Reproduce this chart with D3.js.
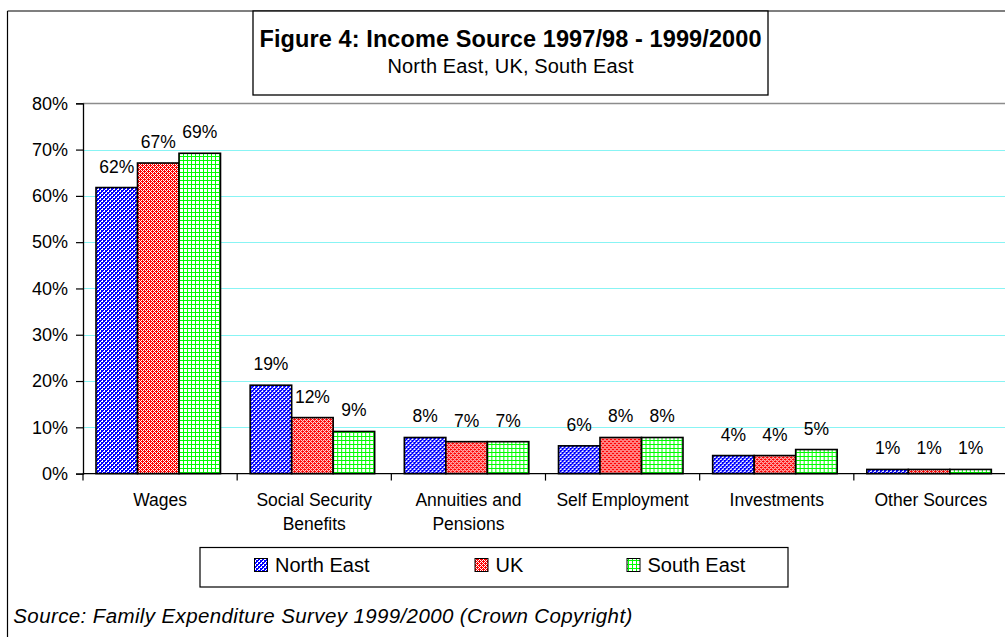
<!DOCTYPE html>
<html>
<head>
<meta charset="utf-8">
<script src="https://cdn.jsdelivr.net/npm/d3@7"></script>
<style>
  html, body { margin: 0; padding: 0; background: #fff; }
  svg { display: block; font-family: "Liberation Sans", Arial, sans-serif; }
</style>
</head>
<body>
<svg id="chart" width="1005" height="637"></svg>
<script>
// ---- data ----
const categories = ["Wages", "Social Security Benefits", "Annuities and Pensions", "Self Employment", "Investments", "Other Sources"];
const categoryLines = [["Wages"], ["Social Security", "Benefits"], ["Annuities and", "Pensions"], ["Self Employment"], ["Investments"], ["Other Sources"]];
const seriesNames = ["North East", "UK", "South East"];
const northEast = [0.618, 0.191, 0.078, 0.060, 0.039, 0.009];
const uk        = [0.671, 0.121, 0.069, 0.078, 0.039, 0.009];
const southEast = [0.692, 0.091, 0.069, 0.078, 0.052, 0.009];
const yTicks = [0, 0.1, 0.2, 0.3, 0.4, 0.5, 0.6, 0.7, 0.8];
const titleText = "Figure 4: Income Source 1997/98 - 1999/2000";
const subtitleText = "North East, UK, South East";
const sourceText = "Source: Family Expenditure Survey 1999/2000 (Crown Copyright)";

const seriesValues = [northEast, uk, southEast];
const svg = d3.select("#chart");

// ---- patterns ----
const defs = svg.append("defs");
function pat(id, bg, fg, pixels, w, h) {
  const p = defs.append("pattern").attr("id", id).attr("patternUnits", "userSpaceOnUse")
    .attr("width", w).attr("height", h);
  p.append("rect").attr("width", w).attr("height", h).attr("fill", bg).attr("shape-rendering", "crispEdges");
  pixels.forEach(([x, y]) => p.append("rect").attr("x", x).attr("y", y).attr("width", 1).attr("height", 1)
    .attr("fill", fg).attr("shape-rendering", "crispEdges"));
}
// blue with white upward diagonals
pat("pNE", "#0000ff", "#ffffff", [[3,0],[2,1],[1,2],[0,3],[3,1],[1,3]], 4, 4);
// red with white downward diagonals
pat("pUK", "#ff0000", "#ffffff", [[0,0],[1,1],[2,2],[3,3],[0,2],[2,0]], 4, 4);
// green grid on white
(function(){
  const p = defs.append("pattern").attr("id", "pSE").attr("patternUnits", "userSpaceOnUse").attr("width", 4).attr("height", 4);
  p.append("rect").attr("width", 4).attr("height", 4).attr("fill", "#ffffff");
  p.append("rect").attr("x", 0).attr("y", 0).attr("width", 1).attr("height", 4).attr("fill", "#00ff00").attr("shape-rendering", "crispEdges");
  p.append("rect").attr("x", 0).attr("y", 0).attr("width", 4).attr("height", 1).attr("fill", "#00ff00").attr("shape-rendering", "crispEdges");
})();
const fills = ["url(#pNE)", "url(#pUK)", "url(#pSE)"];

// ---- outer frame ----
svg.append("line").attr("x1", 7.5).attr("x2", 7.5).attr("y1", 11).attr("y2", 637).attr("stroke", "#000").attr("stroke-width", 1.2);
svg.append("line").attr("x1", 7.5).attr("x2", 1005).attr("y1", 11).attr("y2", 11).attr("stroke", "#000").attr("stroke-width", 1.2);

// ---- scales ----
const y = d3.scaleLinear().domain([0, 0.8]).range([473.6, 103.3]);
const x = d3.scaleBand().domain(categories).range([83, 1008]).padding(0);
const xs = d3.scaleBand().domain(seriesNames).range([13, 137.5]).padding(0);

// gridlines
svg.append("g").selectAll("line").data(yTicks.filter(t => t > 0 && t < 0.8)).join("line")
  .attr("x1", 83).attr("x2", 1005)
  .attr("y1", d => Math.round(y(d)) + 0.5).attr("y2", d => Math.round(y(d)) + 0.5)
  .attr("stroke", "#88f4f4").attr("stroke-width", 1);
svg.append("line").attr("x1", 83).attr("x2", 1005)
  .attr("y1", Math.round(y(0.8)) + 0.5).attr("y2", Math.round(y(0.8)) + 0.5)
  .attr("stroke", "#8c8c8c").attr("stroke-width", 1.5);

// bars
const groups = svg.append("g").selectAll("g").data(categories).join("g")
  .attr("transform", d => `translate(${x(d)},0)`);
groups.each(function(c, ci) {
  const g = d3.select(this);
  seriesNames.forEach((s, si) => {
    const v = seriesValues[si][ci];
    g.append("rect")
      .attr("x", xs(s)).attr("width", xs.bandwidth())
      .attr("y", y(v)).attr("height", y(0) - y(v))
      .attr("fill", fills[si]).attr("stroke", "#000").attr("stroke-width", 1.6);
    g.append("text")
      .attr("x", xs(s) + xs.bandwidth() / 2).attr("y", y(v) - 15)
      .attr("text-anchor", "middle").attr("font-size", 17.5).attr("fill", "#000")
      .text(d3.format(".0%")(v));
  });
});

// y axis
const yAxis = d3.axisLeft(y).tickValues(yTicks).tickFormat(d3.format(".0%")).tickSize(7).tickPadding(8);
const ya = svg.append("g").attr("transform", "translate(83,0)").call(yAxis);
ya.select(".domain").attr("stroke", "#000").attr("stroke-width", 1.3);
ya.selectAll(".tick line").attr("stroke", "#000").attr("stroke-width", 1.2);
ya.selectAll(".tick text").attr("font-size", 18).attr("font-family", "Liberation Sans, Arial, sans-serif").attr("fill", "#000");

// x axis baseline and ticks
svg.append("line").attr("x1", 83).attr("x2", 1005).attr("y1", y(0)).attr("y2", y(0)).attr("stroke", "#000").attr("stroke-width", 1.3);
svg.append("g").selectAll("line").data(categories).join("line")
  .attr("x1", d => x(d)).attr("x2", d => x(d)).attr("y1", y(0)).attr("y2", y(0) + 7)
  .attr("stroke", "#000").attr("stroke-width", 1.2);

// category labels
const cl = svg.append("g").selectAll("text").data(categories).join("text")
  .attr("x", d => x(d) + x.bandwidth() / 2).attr("y", 505.7)
  .attr("text-anchor", "middle").attr("font-size", 17.5).attr("fill", "#000");
cl.each(function(d, i) {
  const t = d3.select(this);
  categoryLines[i].forEach((ln, li) => {
    t.append("tspan").attr("x", x(d) + x.bandwidth() / 2).attr("dy", li === 0 ? 0 : 24.3).text(ln);
  });
});

// title box
svg.append("rect").attr("x", 253).attr("y", 11).attr("width", 515).attr("height", 84)
  .attr("fill", "#fff").attr("stroke", "#000").attr("stroke-width", 1.3);
svg.append("text").attr("x", 510.5).attr("y", 46.7).attr("text-anchor", "middle")
  .attr("font-size", 23.5).attr("font-weight", "bold").attr("textLength", 502).attr("lengthAdjust", "spacing")
  .text(titleText);
svg.append("text").attr("x", 510.5).attr("y", 72.7).attr("text-anchor", "middle")
  .attr("font-size", 20).attr("textLength", 246).attr("lengthAdjust", "spacing")
  .text(subtitleText);

// legend
svg.append("rect").attr("x", 200).attr("y", 547.5).attr("width", 588).attr("height", 39.5)
  .attr("fill", "#fff").attr("stroke", "#000").attr("stroke-width", 1.2);
const legendX = [254.5, 475, 627];
seriesNames.forEach((s, i) => {
  svg.append("rect").attr("x", legendX[i]).attr("y", 558.5).attr("width", 13).attr("height", 13)
    .attr("fill", fills[i]).attr("stroke", "#000").attr("stroke-width", 1);
  svg.append("text").attr("x", legendX[i] + 20.5).attr("y", 571.7).attr("font-size", 20).attr("fill", "#000").text(s);
});

// source
svg.append("text").attr("x", 13.3).attr("y", 622.7).attr("font-size", 20.5).attr("font-style", "italic")
  .attr("textLength", 619).attr("lengthAdjust", "spacing").text(sourceText);
</script>
</body>
</html>
